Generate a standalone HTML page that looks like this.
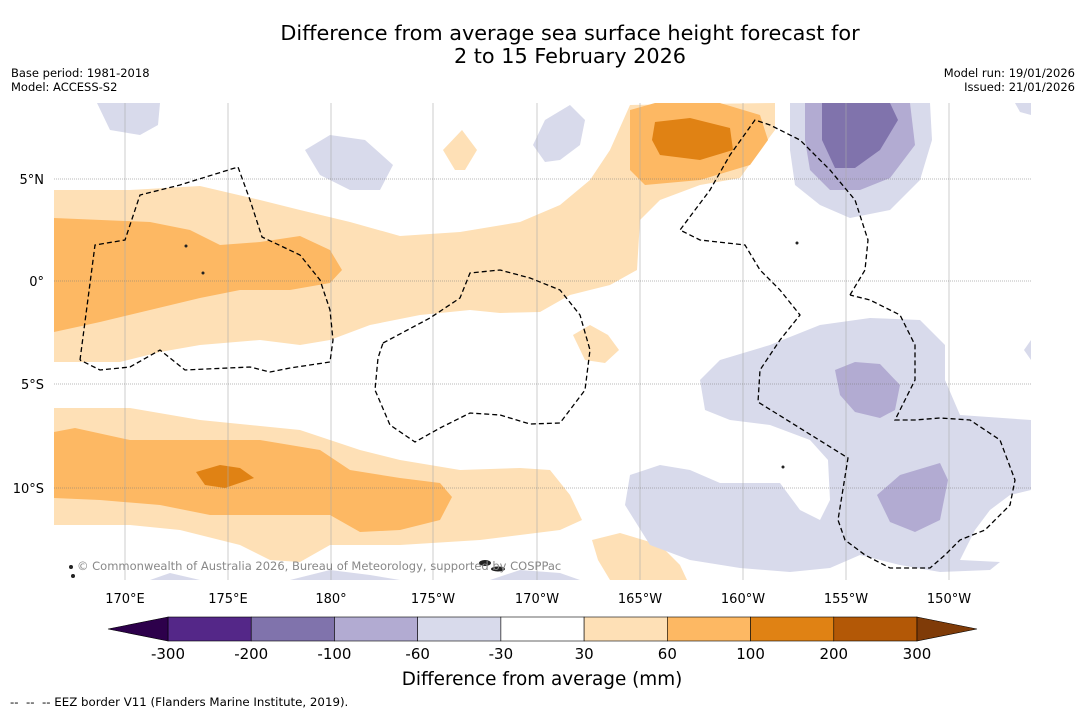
<!DOCTYPE html>
<html><head><meta charset="utf-8">
<style>
body{margin:0;background:#fff;font-family:"DejaVu Sans","Liberation Sans",sans-serif;}
#wrap{position:relative;width:1085px;height:713px;overflow:hidden;background:#fff}
.t{position:absolute;white-space:nowrap;color:#000}
</style></head><body>
<div id="wrap">
<div class="t" style="left:0;width:1140px;text-align:center;top:22px;font-size:20.8px;line-height:23px">Difference from average sea surface height forecast for<br>2 to 15 February 2026</div>
<div class="t" style="left:11px;top:66px;font-size:11.5px;line-height:14px">Base period: 1981-2018<br>Model: ACCESS-S2</div>
<div class="t" style="right:10px;top:66px;font-size:11.5px;line-height:14px;text-align:right">Model run: 19/01/2026<br>Issued: 21/01/2026</div>

<svg width="1085" height="713" style="position:absolute;left:0;top:0">
<defs><clipPath id="c"><rect x="54" y="103" width="977" height="477"/></clipPath></defs>
<g clip-path="url(#c)">
<polygon fill="#fee0b6" points="54,190 130,190 200,186 260,200 300,210 350,222 400,236 460,232 520,222 560,205 590,180 610,150 630,105 775,103 775,130 760,150 740,178 700,185 660,200 640,220 637,270 610,285 570,295 540,312 500,313 470,310 420,315 370,325 330,340 300,345 260,340 200,345 160,352 120,362 54,362"/>
<polygon fill="#fdb863" points="54,218 150,222 190,230 220,245 260,242 300,236 330,250 342,270 330,283 290,290 240,290 200,298 150,310 100,322 54,332"/>
<polygon fill="#fdb863" points="630,110 655,103 720,103 760,115 768,140 750,165 700,180 645,185 630,170"/>
<polygon fill="#e08214" points="655,122 690,118 730,128 733,150 700,160 660,155 652,140"/>
<polygon fill="#fee0b6" points="54,408 130,408 200,420 300,430 360,450 400,460 460,470 520,468 550,470 570,495 582,520 560,530 480,540 400,545 330,545 300,562 270,560 240,545 180,530 130,525 54,525"/>
<polygon fill="#fdb863" points="54,432 75,428 130,440 200,440 260,440 320,450 350,470 400,478 440,483 452,497 440,520 400,530 360,532 330,515 280,515 210,515 160,505 100,500 54,498"/>
<polygon fill="#e08214" points="196,472 220,465 240,468 254,478 225,488 205,485"/>
<polygon fill="#fee0b6" points="443,150 462,130 477,150 465,170 455,170"/>
<polygon fill="#fee0b6" points="573,335 590,325 608,335 619,350 605,363 585,360"/>
<polygon fill="#fee0b6" points="592,540 620,533 660,545 680,565 687,580 610,580 598,560"/>
<polygon fill="#d8daeb" points="790,103 930,103 932,140 920,180 890,210 850,218 820,205 795,185 790,150"/>
<polygon fill="#b2abd2" points="805,103 910,103 915,145 890,178 860,190 830,190 810,170 805,140"/>
<polygon fill="#8073ac" points="822,103 890,103 898,120 880,150 855,168 835,168 822,140"/>
<polygon fill="#d8daeb" points="97,103 160,103 158,125 140,135 110,130"/>
<polygon fill="#d8daeb" points="305,150 330,135 365,140 393,165 380,190 350,190 320,175"/>
<polygon fill="#d8daeb" points="533,145 545,120 570,105 585,120 580,145 560,160 545,162"/>
<polygon fill="#d8daeb" points="1015,103 1031,103 1031,115 1020,112"/>
<polygon fill="#d8daeb" points="1024,350 1031,340 1031,360"/>
<polygon fill="#d8daeb" points="150,580 170,573 200,580"/>
<polygon fill="#d8daeb" points="290,580 330,570 370,575 400,580"/>
<polygon fill="#d8daeb" points="490,580 520,570 560,573 580,580"/>
<polygon fill="#d8daeb" points="700,380 720,360 770,345 820,325 870,318 920,320 945,345 945,380 960,415 1031,420 1031,490 1010,495 990,510 975,530 960,560 1000,562 990,570 940,572 900,565 860,555 830,568 790,572 740,568 690,560 650,545 625,505 630,475 660,465 690,470 720,483 780,483 800,510 820,520 830,500 828,460 810,440 770,425 730,420 705,410"/>
<polygon fill="#b2abd2" points="835,370 855,362 880,364 900,385 895,410 880,418 855,412 840,395"/>
<polygon fill="#b2abd2" points="877,495 900,475 940,463 948,480 940,520 915,532 890,522"/>
</g>
<g stroke="#aaa" stroke-width="0.6">
<line x1="125" y1="103" x2="125" y2="580"/><line x1="228" y1="103" x2="228" y2="580"/><line x1="331" y1="103" x2="331" y2="580"/><line x1="433" y1="103" x2="433" y2="580"/><line x1="537" y1="103" x2="537" y2="580"/><line x1="640" y1="103" x2="640" y2="580"/><line x1="743" y1="103" x2="743" y2="580"/><line x1="846" y1="103" x2="846" y2="580"/><line x1="949" y1="103" x2="949" y2="580"/>
<g stroke-dasharray="1,1" stroke="#777"><line x1="54" y1="179" x2="1031" y2="179"/><line x1="54" y1="281" x2="1031" y2="281"/><line x1="54" y1="384" x2="1031" y2="384"/><line x1="54" y1="488" x2="1031" y2="488"/></g>
</g>
<g fill="none" stroke="#000" stroke-width="1.3" stroke-dasharray="5,3">
<polyline points="80,360 95,245 125,240 140,195 180,185 238,167 250,200 262,237 300,255 320,280 330,310 333,340 330,362 290,368 270,372 250,367 185,370 160,350 130,367 100,370 80,360"/>
<polyline points="383,343 430,318 460,298 470,273 500,270 530,278 560,290 580,315 590,350 585,390 560,423 530,424 500,415 470,413 440,428 415,442 390,425 375,390 378,358 383,343"/>
<polyline points="850,295 865,270 868,240 855,200 830,170 800,140 770,125 755,120 730,155 710,190 680,230 700,240 745,245 760,270 780,290 800,315 780,340 760,370 758,402 848,458 838,520 845,540 865,555 890,568 930,568 945,555 960,540 985,530 1010,505 1015,480 1000,440 970,420 940,418 915,420 895,420 905,400 915,380 915,345 900,315 870,300 850,295"/>
</g>
<g fill="#222">
<ellipse cx="485" cy="563" rx="6" ry="3"/><ellipse cx="498" cy="569" rx="7" ry="2.5"/><circle cx="71" cy="567" r="2"/><circle cx="73" cy="576" r="2"/><circle cx="186" cy="246" r="1.5"/><circle cx="203" cy="273" r="1.5"/><circle cx="797" cy="243" r="1.5"/><circle cx="783" cy="467" r="1.5"/>
</g>
<text x="77" y="570" font-size="11.5" fill="#888">© Commonwealth of Australia 2026, Bureau of Meteorology, supported by COSPPac</text>
<g font-size="13" text-anchor="middle">
<text x="125" y="603">170°E</text><text x="228" y="603">175°E</text><text x="331" y="603">180°</text><text x="433" y="603">175°W</text><text x="537" y="603">170°W</text><text x="640" y="603">165°W</text><text x="743" y="603">160°W</text><text x="846" y="603">155°W</text><text x="949" y="603">150°W</text>
</g>
<g font-size="13" text-anchor="end">
<text x="44" y="184">5°N</text><text x="44" y="286">0°</text><text x="44" y="389">5°S</text><text x="44" y="493">10°S</text>
</g>
<g id="cbar"></g>
<text x="542" y="685" font-size="18.4" text-anchor="middle">Difference from average (mm)</text>
<text x="10" y="706" font-size="11.8" xml:space="preserve">--  --  -- EEZ border V11 (Flanders Marine Institute, 2019).</text>
</svg>
</div>
<script>
const binColors=["#542788","#8073ac","#b2abd2","#d8daeb","#ffffff","#fee0b6","#fdb863","#e08214","#b35806"];
const tickLabels=["-300","-200","-100","-60","-30","30","60","100","200","300"];
const extendColors=["#2d004b","#7f3b08"];
const g=document.getElementById('cbar');
const NS="http://www.w3.org/2000/svg";
const x0=168,x1=917,y0=617,h=24,w=(x1-x0)/binColors.length;
function mk(t,a){const e=document.createElementNS(NS,t);for(const k in a)e.setAttribute(k,a[k]);g.appendChild(e);return e;}
binColors.forEach((c,i)=>{const r=mk('rect',{x:x0+i*w,y:y0,width:w,height:h,fill:c,stroke:'#000','stroke-width':0.6});

});
const l=mk('polygon',{points:`${x0},${y0} 108,${y0+h/2} ${x0},${y0+h}`,fill:extendColors[0],stroke:'#000','stroke-width':0.6});


const r=mk('polygon',{points:`${x1},${y0} 977,${y0+h/2} ${x1},${y0+h}`,fill:extendColors[1],stroke:'#000','stroke-width':0.6});


tickLabels.forEach((s,i)=>{const t=mk('text',{x:x0+i*w,y:659,'font-size':15,'text-anchor':'middle'});t.textContent=s;

});
</script>
</body></html>
